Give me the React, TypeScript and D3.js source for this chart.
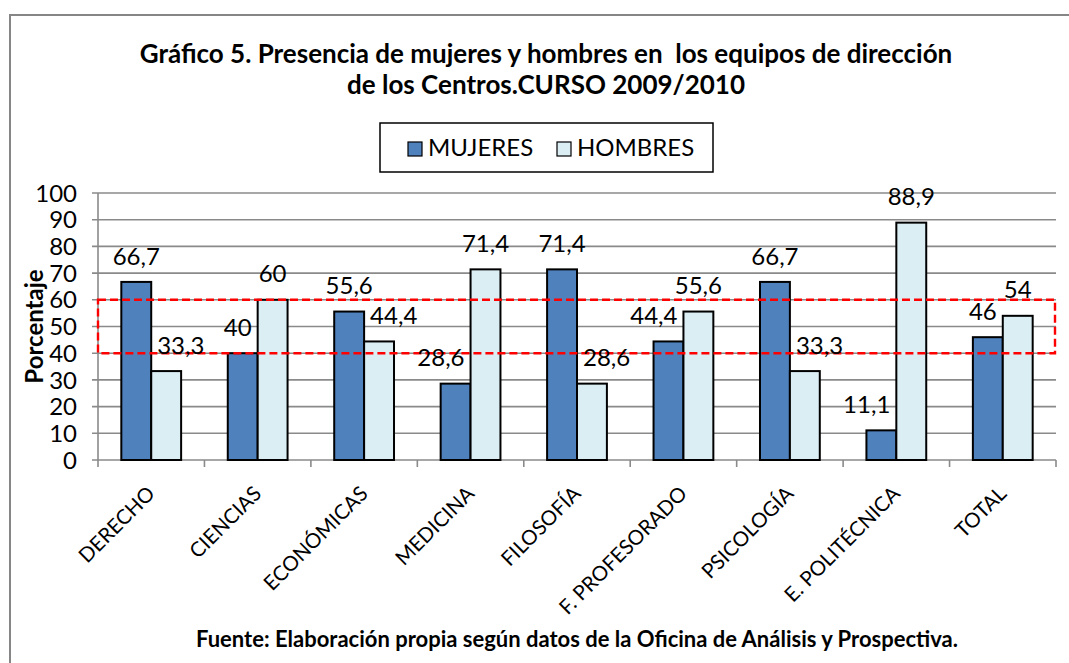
import * as d3 from "d3";

// chart values
const categories = [
  "DERECHO",
  "CIENCIAS",
  "ECONÓMICAS",
  "MEDICINA",
  "FILOSOFÍA",
  "F. PROFESORADO",
  "PSICOLOGÍA",
  "E. POLITÉCNICA",
  "TOTAL",
];
const mujeres = [66.7, 40, 55.6, 28.6, 71.4, 44.4, 66.7, 11.1, 46];
const hombres = [33.3, 60, 44.4, 71.4, 28.6, 55.6, 33.3, 88.9, 54];
const seriesNames = ["MUJERES", "HOMBRES"];
const yTicks = [0, 10, 20, 30, 40, 50, 60, 70, 80, 90, 100];
const highlightRange = [40, 60];

const titleLines = [
  "Gráfico 5. Presencia de mujeres y hombres en  los equipos de dirección",
  "de los Centros.CURSO 2009/2010",
];
const yTitle = "Porcentaje";
const source = "Fuente: Elaboración propia según datos de la Oficina de Análisis y Prospectiva.";

const W = 1069;
const H = 663;
const FONT = "Lato, 'Open Sans', sans-serif";
const colors = ["#4f81bd", "#dbeef4"];
const LABEL_SIZE = 24;

let ctx: CanvasRenderingContext2D | null = null;
const measure = (text: string) => {
  if (!ctx) ctx = document.createElement("canvas").getContext("2d");
  if (!ctx) return text.length * LABEL_SIZE * 0.5;
  ctx.font = `${LABEL_SIZE}px Lato`;
  return ctx.measureText(text).width;
};

const fmt = (v: number) => String(v).replace(".", ",");

export default function App() {
  const left = 98;
  const right = 1056;
  const top = 193;
  const bottom = 460;

  const x = d3.scaleBand<string>().domain(categories).range([left, right]).padding(0);
  const bw = x.bandwidth();
  const inner = d3
    .scaleBand<string>()
    .domain(seriesNames)
    .range([0, bw])
    .paddingInner(0)
    .paddingOuter(0.78);
  const y = d3.scaleLinear().domain([0, 100]).range([bottom, top]);

  const values = [mujeres, hombres];

  // data labels: above the bar, pushed sideways when the neighbour bar is in the way
  const labels: { x: number; y: number; text: string }[] = [];
  categories.forEach((c, i) => {
    values.forEach((vals, s) => {
      const v = vals[i];
      const other = values[1 - s][i];
      const bx = x(c)! + inner(seriesNames[s])!;
      const ox = x(c)! + inner(seriesNames[1 - s])!;
      const cx = bx + inner.bandwidth() / 2;
      const cy = y(v) - 26;
      const text = fmt(v);
      const w = measure(text);
      let lx = cx;
      if (y(other) < cy + 9) {
        if (s === 0) {
          const edge = ox - 6;
          if (cx + w / 2 > edge) lx = edge - w / 2;
        } else {
          const edge = ox + inner.bandwidth() + 6;
          if (cx - w / 2 < edge) lx = edge + w / 2;
        }
      }
      labels.push({ x: lx, y: cy, text });
    });
  });

  return (
    <svg
      width={W}
      height={H}
      style={{ position: "absolute", left: 0, top: 0, background: "#fff" }}
      fontFamily={FONT}
    >
      <rect x={0} y={0} width={W} height={H} fill="#fff" />
      <rect x={10} y={15} width={W + 40} height={H + 40} fill="none" stroke="#868686" strokeWidth={2} />

      {titleLines.map((t, i) => (
        <text
          key={i}
          x={546}
          y={63 + i * 31}
          textAnchor="middle"
          fontWeight="bold"
          fontSize={26}
          fill="#000"
          style={{ whiteSpace: "pre" }}
        >
          {t}
        </text>
      ))}

      {/* legend */}
      <rect x={380} y={123} width={333} height={49} fill="#fff" stroke="#000" strokeWidth={1.5} />
      {seriesNames.map((n, i) => (
        <g key={n} transform={`translate(${408 + i * 149},0)`}>
          <rect x={0} y={142} width={14} height={14} fill={colors[i]} stroke="#000" strokeWidth={1.2} />
          <text x={20} y={156} fontSize={24} fill="#000">
            {n}
          </text>
        </g>
      ))}

      {/* grid */}
      {yTicks.map((t) => (
        <g key={t}>
          <line x1={left - 6} x2={right} y1={y(t)} y2={y(t)} stroke="#8a8a8a" strokeWidth={1.6} />
          <text x={77} y={y(t)} dy="0.36em" textAnchor="end" fontSize={24} fill="#000">
            {t}
          </text>
        </g>
      ))}
      <line x1={left} x2={left} y1={top} y2={bottom} stroke="#8a8a8a" strokeWidth={1.6} />
      {[...categories.map((c) => x(c)!), right].map((tx, i) => (
        <line key={i} x1={tx} x2={tx} y1={bottom} y2={bottom + 7} stroke="#8a8a8a" strokeWidth={1.6} />
      ))}

      <text
        transform={`translate(43,${(top + bottom) / 2}) rotate(-90)`}
        textAnchor="middle"
        fontWeight="bold"
        fontSize={24}
        fill="#000"
      >
        {yTitle}
      </text>

      {/* bars */}
      {categories.map((c, i) =>
        values.map((vals, s) => (
          <rect
            key={c + s}
            x={x(c)! + inner(seriesNames[s])!}
            y={y(vals[i])}
            width={inner.bandwidth()}
            height={bottom - y(vals[i])}
            fill={colors[s]}
            stroke="#000"
            strokeWidth={2}
          />
        ))
      )}

      {/* highlighted band */}
      <rect
        x={left}
        y={y(highlightRange[1])}
        width={right - 1 - left}
        height={y(highlightRange[0]) - y(highlightRange[1])}
        fill="none"
        stroke="#ff0000"
        strokeWidth={2.4}
        strokeDasharray="8,4"
      />

      {labels.map((l, i) => (
        <text key={i} x={l.x} y={l.y} dy="0.36em" textAnchor="middle" fontSize={LABEL_SIZE} fill="#000">
          {l.text}
        </text>
      ))}

      {categories.map((c) => (
        <text
          key={c}
          transform={`translate(${x(c)! + bw / 2 + 5},${bottom + 35}) rotate(-45)`}
          textAnchor="end"
          fontSize={20.5}
          fill="#000"
        >
          {c}
        </text>
      ))}

      <text x={577} y={647} textAnchor="middle" fontWeight="bold" fontSize={22} fill="#000">
        {source}
      </text>
    </svg>
  );
}
